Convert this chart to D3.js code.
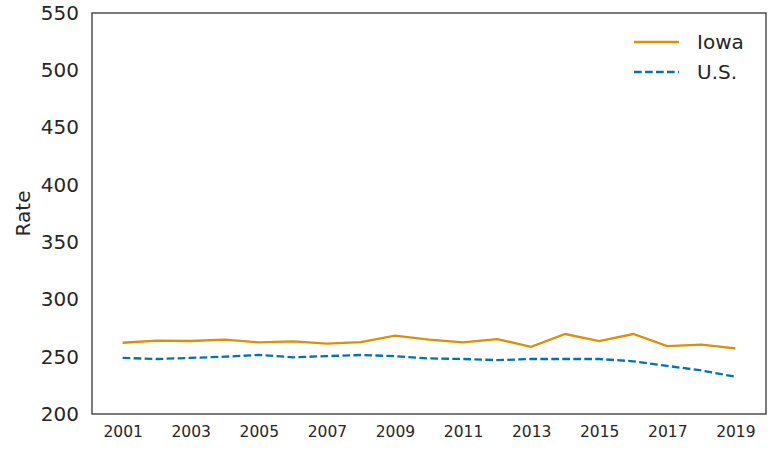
<!doctype html>
<html>
<head>
<style>
  body { margin: 0; background: #fff; }
  text { font-family: "DejaVu Sans", sans-serif; fill: #262626; }
</style>
<script src="https://cdn.jsdelivr.net/npm/d3@7"></script>
</head>
<body>
<svg width="771" height="454"></svg>
<script>
var years = [2001, 2002, 2003, 2004, 2005, 2006, 2007, 2008, 2009, 2010,
             2011, 2012, 2013, 2014, 2015, 2016, 2017, 2018, 2019];
var iowa = [262.2, 264, 263.7, 265, 262.5, 263.4, 261.4, 262.8, 268.4, 265,
            262.5, 265.4, 258.7, 269.8, 263.7, 269.8, 259.3, 260.5, 257.3];
var us = [249, 248, 249, 250, 251.5, 249.5, 250.5, 251.5, 250.5, 248.5,
          248, 247, 248, 248, 248, 246, 242, 238, 232.5];
var yTicks = [200, 250, 300, 350, 400, 450, 500, 550];
var xTicks = [2001, 2003, 2005, 2007, 2009, 2011, 2013, 2015, 2017, 2019];

var series = [
    {name: "Iowa", values: iowa, color: "#de8f05", dash: null},
    {name: "U.S.", values: us, color: "#0173b2", dash: "7.7,3.3"}
];

var svg = d3.select("svg");
// plot box (window.top is reserved, so use other names)
var pLeft = 92, pRight = 766, pTop = 13, pBottom = 414;

var x = d3.scaleLinear().domain([2000.1, 2019.9]).range([pLeft, pRight]);
var y = d3.scaleLinear().domain([200, 550]).range([pBottom, pTop]);

// y axis
var yAxis = svg.append("g")
   .attr("transform", "translate(" + pLeft + ",0)")
   .call(d3.axisLeft(y).tickValues(yTicks).tickSize(0).tickPadding(13));
yAxis.select(".domain").remove();
yAxis.selectAll("text")
   .attr("font-size", "20px")
   .attr("font-family", "DejaVu Sans")
   .attr("fill", "#262626");

// x axis
var xAxis = svg.append("g")
   .attr("transform", "translate(0," + pBottom + ")")
   .call(d3.axisBottom(x).tickValues(xTicks).tickFormat(d3.format("d")).tickSize(0).tickPadding(12));
xAxis.select(".domain").remove();
xAxis.selectAll("text")
   .attr("font-size", "15.5px")
   .attr("font-family", "DejaVu Sans")
   .attr("fill", "#262626");

svg.append("text")
   .attr("transform", "translate(30," + ((pTop + pBottom) / 2) + ") rotate(-90)")
   .attr("text-anchor", "middle")
   .attr("font-size", "20px")
   .text("Rate");

var line = d3.line()
   .x(function(d, i) { return x(years[i]); })
   .y(function(d) { return y(d); });

series.forEach(function(s) {
    svg.append("path")
       .datum(s.values)
       .attr("d", line)
       .attr("fill", "none")
       .attr("stroke", s.color)
       .attr("stroke-width", 2.3)
       .attr("stroke-dasharray", s.dash);
});

// frame
svg.append("rect")
   .attr("x", pLeft).attr("y", pTop)
   .attr("width", pRight - pLeft).attr("height", pBottom - pTop)
   .attr("fill", "none")
   .attr("stroke", "#333")
   .attr("stroke-width", 1.3);

// legend
var legend = svg.append("g");
series.forEach(function(s, i) {
    var ly = 42 + i * 30;
    legend.append("line")
       .attr("x1", 634).attr("x2", 679)
       .attr("y1", ly).attr("y2", ly)
       .attr("stroke", s.color)
       .attr("stroke-width", 2.3)
       .attr("stroke-dasharray", s.dash);
    legend.append("text")
       .attr("x", 697).attr("y", ly + 7)
       .attr("font-size", "20px")
       .text(s.name);
});
</script>
</body>
</html>
